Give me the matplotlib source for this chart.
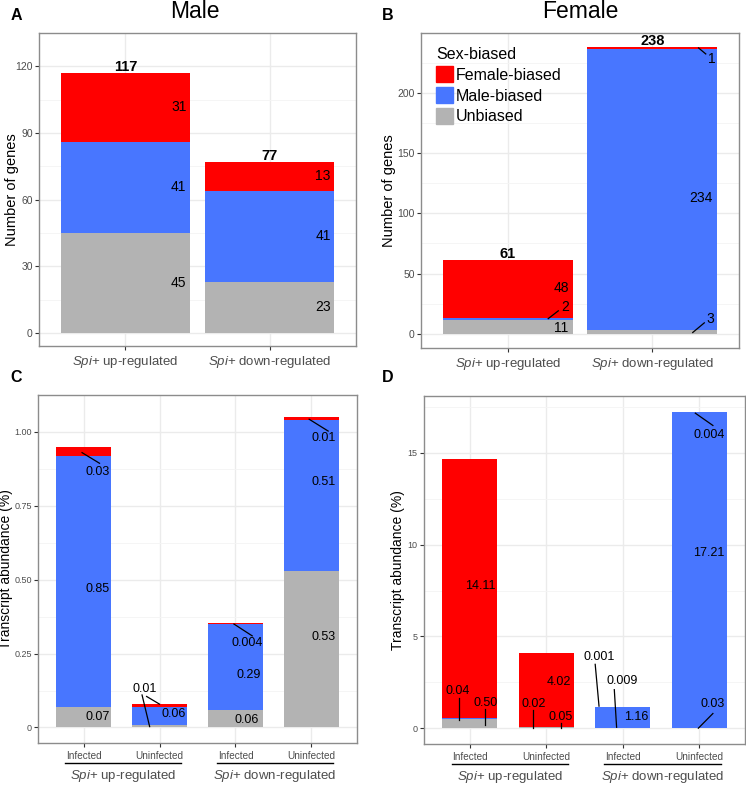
import matplotlib
matplotlib.use("Agg")
import matplotlib.pyplot as plt
from matplotlib.patches import Patch
from matplotlib.transforms import blended_transform_factory

plt.rcParams['font.family'] = ['Liberation Sans', 'DejaVu Sans']
plt.rcParams['mathtext.fontset'] = 'custom'
plt.rcParams['mathtext.rm'] = 'Liberation Sans'
plt.rcParams['mathtext.it'] = 'Liberation Sans:italic'

# data
series = ['Unbiased', 'Male-biased', 'Female-biased']
colors = {'Unbiased': '#B3B3B3', 'Male-biased': '#4876FF', 'Female-biased': '#FF0000'}
groups = [r'$\it{Spi}$+ up-regulated', r'$\it{Spi}$+ down-regulated']
conditions = ['Infected', 'Uninfected', 'Infected', 'Uninfected']

male_unbiased = [45, 23]
male_malebiased = [41, 41]
male_femalebiased = [31, 13]

female_unbiased = [11, 3]
female_malebiased = [2, 234]
female_femalebiased = [48, 1]

c_unbiased = [0.07, 0.01, 0.06, 0.53]
c_malebiased = [0.85, 0.06, 0.29, 0.51]
c_femalebiased = [0.03, 0.01, 0.004, 0.01]

d_unbiased = [0.50, 0.05, 0.009, 0.03]
d_malebiased = [0.04, 0.02, 1.16, 17.21]
d_femalebiased = [14.11, 4.02, 0.001, 0.004]

W, H = 746, 785
fig = plt.figure(figsize=(W / 100, H / 100), dpi=100)


def add_ax(left, right, top, bottom):
    return fig.add_axes([left / W, 1 - bottom / H, (right - left) / W, (bottom - top) / H])


def style(ax, ylabel, yticks, yticklabels, label_x, label_size, tick_size):
    ax.set_facecolor('white')
    for s in ax.spines.values():
        s.set_color('#8C8C8C')
        s.set_linewidth(1.0)
    ax.set_yticks(yticks)
    ax.set_yticklabels(yticklabels)
    minor = [(a + b) / 2 for a, b in zip(yticks[:-1], yticks[1:])]
    minor.append(yticks[-1] + (yticks[1] - yticks[0]) / 2)
    ax.set_yticks(minor, minor=True)
    ax.grid(True, which='major', color='#EBEBEB', linewidth=1.0, zorder=0)
    ax.grid(True, which='minor', axis='y', color='#F4F4F4', linewidth=0.6, zorder=0)
    ax.tick_params(axis='both', which='major', length=3, color='#333333', labelcolor='#4D4D4D',
                   labelsize=tick_size, width=0.8, pad=1.5)
    ax.tick_params(axis='y', which='minor', length=0)
    ax.set_axisbelow(True)
    ax.set_ylabel(ylabel, fontsize=label_size)
    ax.yaxis.set_label_coords(label_x, 0.5)


def stacked(ax, xs, layers, width):
    bottom = [0] * len(xs)
    for name, vals in layers:
        ax.bar(xs, vals, width=width, bottom=bottom, color=colors[name], linewidth=0, zorder=2, label=name)
        bottom = [b + v for b, v in zip(bottom, vals)]
    return bottom


def fmt(v):
    return '{:.3f}'.format(v) if v < 0.01 else '{:.2f}'.format(v)


# ---------- A: Male ----------
axA = add_ax(39, 356, 33, 346)
xs = [1, 2]
layersA = [('Unbiased', male_unbiased), ('Male-biased', male_malebiased), ('Female-biased', male_femalebiased)]
totA = stacked(axA, xs, layersA, 0.9)
axA.set_xlim(0.4, 2.6)
axA.set_ylim(-max(totA) * 0.05, max(totA) * 1.05)
style(axA, 'Number of genes', [0, 30, 60, 90, 120], ['0', '30', '60', '90', '120'], -0.062, 10.5, 7.5)
axA.set_xticks(xs)
axA.set_xticklabels(groups, fontsize=9.5)
axA.tick_params(axis='x', pad=3)
for i, x in enumerate(xs):
    b = 0
    for name, vals in layersA:
        axA.text(x + 0.37, b + vals[i] / 2, str(vals[i]), ha='center', va='center', fontsize=10, zorder=3)
        b += vals[i]
    axA.annotate(str(totA[i]), (x, totA[i]), xytext=(0, 1.5), textcoords='offset points',
                 ha='center', va='baseline', fontsize=10.5, fontweight='bold', annotation_clip=False)

# ---------- B: Female ----------
axB = add_ax(421, 739, 33, 348)
layersB = [('Unbiased', female_unbiased), ('Male-biased', female_malebiased), ('Female-biased', female_femalebiased)]
totB = stacked(axB, xs, layersB, 0.9)
axB.set_xlim(0.4, 2.6)
axB.set_ylim(-max(totB) * 0.05, max(totB) * 1.05)
style(axB, 'Number of genes', [0, 50, 100, 150, 200], ['0', '50', '100', '150', '200'], -0.078, 10.5, 7.5)
axB.set_xticks(xs)
axB.set_xticklabels(groups, fontsize=9.5)
axB.tick_params(axis='x', pad=3)
# label layout: (bar, layer) -> text pos, optional leader line
labB = {
    (0, 0): ((1.37, 4.5), None),
    (0, 1): ((1.40, 22.5), ((1.28, 12.5), (1.35, 19))),
    (0, 2): ((1.37, 38), None),
    (1, 0): ((2.40, 12.5), ((2.28, 1), (2.36, 9))),
    (1, 1): ((2.34, 113), None),
    (1, 2): ((2.41, 228), ((2.32, 237.5), (2.37, 232.5))),
}
for (i, j), (pos, line) in labB.items():
    axB.text(pos[0], pos[1], str(layersB[j][1][i]), ha='center', va='center', fontsize=10, zorder=4)
    if line:
        axB.plot([line[0][0], line[1][0]], [line[0][1], line[1][1]], color='black', lw=0.9, zorder=4)
for i, x in enumerate(xs):
    axB.annotate(str(totB[i]), (x, totB[i]), xytext=(0, 1.5), textcoords='offset points',
                 ha='center', va='baseline', fontsize=10.5, fontweight='bold', annotation_clip=False)
handles = [Patch(color=colors[n]) for n in ['Female-biased', 'Male-biased', 'Unbiased']]
leg = axB.legend(handles, ['Female-biased', 'Male-biased', 'Unbiased'], title='Sex-biased',
                 loc='upper left', bbox_to_anchor=(436 / W, 1 - 47 / H), bbox_transform=fig.transFigure,
                 frameon=False, fontsize=11.5, title_fontsize=11.5, handlelength=1.05, handleheight=1.15,
                 handletextpad=0.2, labelspacing=0.28, borderpad=0, borderaxespad=0, alignment='left')

# ---------- C / D ----------
xs4 = [1, 2, 3, 4]


def panel_cd(ax, layers, yticks, yticklabels, labels, label_x):
    tot = stacked(ax, xs4, layers, 0.72)
    ax.set_xlim(0.4, 4.6)
    ax.set_ylim(-max(tot) * 0.05, max(tot) * 1.05)
    style(ax, 'Transcript abundance (%)', yticks, yticklabels, label_x, 10, 6.5)
    ax.set_xticks(xs4)
    ax.set_xticklabels(conditions)
    ax.tick_params(axis='x', labelcolor='#4D4D4D', labelsize=7.2, pad=2.5)
    for (i, j), (pos, lines) in labels.items():
        if pos is not None:
            ax.text(pos[0], pos[1], fmt(layers[j][1][i]), ha='center', va='center', fontsize=9, zorder=4)
        for ln in lines:
            ax.plot([ln[0][0], ln[1][0]], [ln[0][1], ln[1][1]], color='black', lw=0.9, zorder=4)
    tr = blended_transform_factory(ax.transData, ax.transAxes)
    for k, g in enumerate(groups):
        c = 1.52 + 2 * k
        ax.plot([c - 0.76, c + 0.76], [-0.058, -0.058], color='black', lw=1.0, transform=tr, clip_on=False)
        ax.text(c, -0.095, g, ha='center', va='center', fontsize=9.5, color='#4D4D4D', transform=tr)


axC = add_ax(38, 357, 395, 743)
layersC = [('Unbiased', c_unbiased), ('Male-biased', c_malebiased), ('Female-biased', c_femalebiased)]
labC = {
    (0, 2): ((1.18, 0.865), [((0.98, 0.93), (1.21, 0.894))]),
    (0, 1): ((1.18, 0.47), []),
    (0, 0): ((1.18, 0.036), []),
    (1, 2): ((1.81, 0.13), [((1.83, 0.105), (2.0, 0.079))]),
    (1, 0): (None, [((1.77, 0.11), (1.87, 0.003))]),
    (1, 1): ((2.18, 0.046), []),
    (2, 2): ((3.15, 0.287), [((2.98, 0.35), (3.22, 0.31))]),
    (2, 1): ((3.18, 0.178), []),
    (2, 0): ((3.15, 0.026), []),
    (3, 2): ((4.16, 0.98), [((3.97, 1.043), (4.22, 1.003))]),
    (3, 1): ((4.16, 0.83), []),
    (3, 0): ((4.16, 0.307), []),
}
panel_cd(axC, layersC, [0, 0.25, 0.5, 0.75, 1.0], ['0', '0.25', '0.50', '0.75', '1.00'], labC, -0.078)

axD = add_ax(424, 745, 396, 744)
layersD = [('Unbiased', d_unbiased), ('Male-biased', d_malebiased), ('Female-biased', d_femalebiased)]
labD = {
    (0, 2): ((1.14, 7.77), []),
    (0, 1): ((0.84, 2.0), [((0.86, 1.63), (0.86, 0.43))]),
    (0, 0): ((1.20, 1.36), [((1.2, 1.03), (1.2, 0.16))]),
    (1, 2): ((2.17, 2.5), []),
    (1, 1): ((1.83, 1.3), [((1.83, 0.98), (1.83, 0.0))]),
    (1, 0): ((2.19, 0.6), [((2.19, 0.27), (2.19, 0.0))]),
    (2, 2): ((2.69, 3.86), [((2.64, 3.48), (2.69, 1.2))]),
    (2, 0): ((2.99, 2.55), [((2.89, 2.1), (2.92, 0.05))]),
    (2, 1): ((3.18, 0.6), []),
    (3, 2): ((4.13, 16.0), [((3.95, 17.17), (4.18, 16.5))]),
    (3, 1): ((4.13, 9.55), []),
    (3, 0): ((4.17, 1.3), [((3.99, 0.0), (4.18, 0.8))]),
}
panel_cd(axD, layersD, [0, 5, 10, 15], ['0', '5', '10', '15'], labD, -0.059)

# titles and panel letters
fig.text(195 / W, 1 - 12 / H, 'Male', ha='center', va='center', fontsize=16.5)
fig.text(580 / W, 1 - 12 / H, 'Female', ha='center', va='center', fontsize=16.5)
for letter, x, y in [('A', 16, 15), ('B', 388, 15), ('C', 16, 378), ('D', 388, 378)]:
    fig.text(x / W, 1 - y / H, letter, ha='center', va='center', fontsize=11.5, fontweight='bold')

fig.savefig('out.png', dpi=100)
